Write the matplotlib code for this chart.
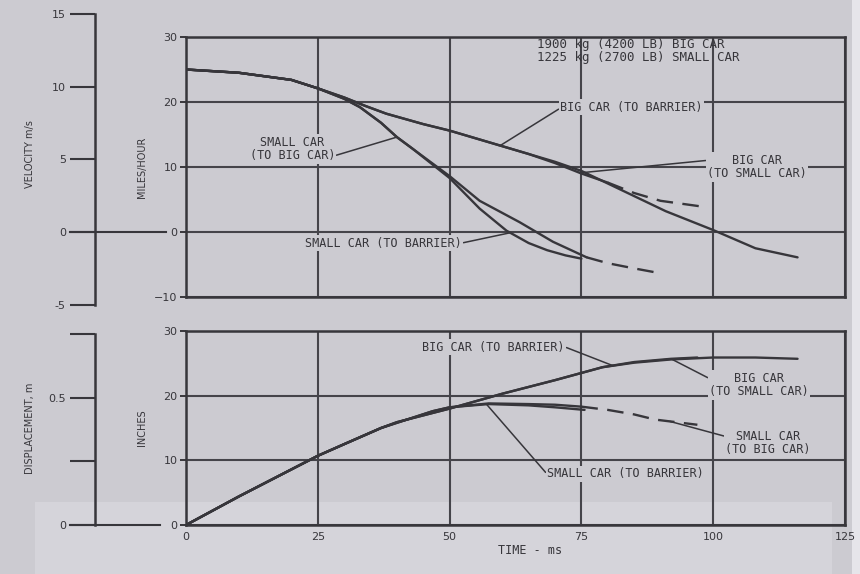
import numpy as np
import matplotlib
matplotlib.use("Agg")
import matplotlib.pyplot as plt
from matplotlib.transforms import blended_transform_factory
from matplotlib.patches import Rectangle
from matplotlib.lines import Line2D

# ---------------- data ----------------
# Velocity (miles/hour) vs time (ms)
vel_big_barrier_t = [0, 10, 20, 25, 30, 34, 38, 45, 50, 57.5, 65, 70, 75, 83, 91, 100, 108, 116]
vel_big_barrier_v = [25, 24.5, 23.4, 22.1, 20.7, 19.4, 18.2, 16.6, 15.6, 13.8, 12.0, 10.8, 9.4, 6.3, 3.2, 0.3, -2.5, -3.9]

vel_big_small_t = [0, 10, 20, 25, 30, 34, 38, 45, 50, 57.5, 65, 70, 75, 80, 85, 90, 98]
vel_big_small_v = [25, 24.5, 23.4, 22.1, 20.7, 19.4, 18.2, 16.6, 15.6, 13.8, 12.0, 10.6, 9.0, 7.6, 6.0, 4.8, 3.9]
vel_big_small_dash_from = 80

vel_small_barrier_t = [0, 10, 20, 25, 30, 33, 37, 40, 43, 50, 55.7, 60.8, 65, 68.5, 72, 75]
vel_small_barrier_v = [25, 24.5, 23.4, 22.1, 20.5, 19.2, 16.8, 14.6, 12.8, 8.3, 3.6, 0.2, -1.7, -2.8, -3.6, -4.1]

vel_small_big_t = [0, 10, 20, 25, 30, 33, 37, 40, 43, 50, 55.7, 63.3, 69.6, 76, 80, 85, 89]
vel_small_big_v = [25, 24.5, 23.4, 22.1, 20.5, 19.2, 16.8, 14.6, 12.8, 8.6, 4.8, 1.5, -1.5, -3.9, -4.8, -5.6, -6.2]
vel_small_big_dash_from = 76

# Displacement (inches) vs time (ms)
dsp_big_barrier_t = [0, 10, 20, 25, 30, 37, 40, 50, 60, 70, 79, 85, 92, 100, 108, 116]
dsp_big_barrier_d = [0, 4.4, 8.6, 10.7, 12.5, 15.0, 15.9, 18.0, 20.3, 22.4, 24.4, 25.1, 25.6, 25.9, 25.9, 25.7]

dsp_big_small_t = [0, 10, 20, 25, 30, 37, 40, 50, 60, 70, 79, 85, 92, 97]
dsp_big_small_d = [0, 4.4, 8.6, 10.7, 12.5, 15.0, 15.9, 18.0, 20.3, 22.4, 24.4, 25.2, 25.7, 25.9]

dsp_small_barrier_t = [0, 10, 20, 25, 30, 37, 40, 46.8, 50, 57.4, 65, 70, 75.6]
dsp_small_barrier_d = [0, 4.4, 8.6, 10.7, 12.5, 15.0, 15.8, 17.6, 18.2, 18.7, 18.5, 18.2, 17.8]

dsp_small_big_t = [0, 10, 20, 25, 30, 37, 40, 46.8, 50, 57.4, 65, 70, 75, 80, 85, 89, 92, 97]
dsp_small_big_d = [0, 4.4, 8.6, 10.7, 12.5, 15.0, 15.8, 17.6, 18.2, 18.8, 18.7, 18.6, 18.3, 17.8, 17.1, 16.3, 16.0, 15.5]
dsp_small_big_dash_from = 75

time_ticks = [0, 25, 50, 75, 100, 125]
mph_ticks = [-10, 0, 10, 20, 30]
inch_ticks = [0, 10, 20, 30]
ms_ticks = [-5, 0, 5, 10, 15]
m_ticks = [0, 0.25, 0.5, 0.75]
m_tick_labels = ["0", "", "0.5", ""]

MPH_PER_MS = 2.23694
M_PER_IN = 0.0254

# ---------------- style ----------------
BG = "#cccbd1"
BG_LIGHT = "#d5d4da"
INK = "#37363b"
GRID = "#45444a"
LBL_FONT = "DejaVu Sans Mono"

W, H = 860, 574
fig = plt.figure(figsize=(W / 100, H / 100), dpi=100)
fig.patch.set_facecolor(BG)
fig.add_artist(Rectangle((35 / W, 0), (832 - 35) / W, (574 - 502) / H, transform=fig.transFigure,
                         facecolor=BG_LIGHT, edgecolor="none", zorder=-5))
fig.add_artist(Rectangle((852 / W, 0), 8 / W, 1, transform=fig.transFigure,
                         facecolor="#e6e5ea", edgecolor="none", zorder=-5))


def rect(x0, y0, x1, y1):
    return [x0 / W, 1 - y1 / H, (x1 - x0) / W, (y1 - y0) / H]


ax_v = fig.add_axes(rect(186, 37, 845, 297))
ax_d = fig.add_axes(rect(186, 331, 845, 525))

for ax in (ax_v, ax_d):
    ax.set_facecolor("none")
    ax.set_xlim(0, 125)
    ax.set_xticks(time_ticks)
    ax.grid(True, color=GRID, lw=1.5)
    ax.set_axisbelow(True)
    for s in ax.spines.values():
        s.set_color(INK)
        s.set_linewidth(1.8)
    ax.tick_params(axis="y", direction="out", length=4, width=1.4, color=INK,
                   labelsize=8, labelcolor=INK, pad=2)
    ax.tick_params(axis="x", length=0, labelsize=8, labelcolor=INK, pad=5)

ax_v.set_ylim(-10, 30)
ax_v.set_yticks(mph_ticks)
ax_v.tick_params(axis="x", labelbottom=False)
ax_d.set_ylim(0, 30)
ax_d.set_yticks(inch_ticks)
ax_d.set_xticklabels([str(t) for t in time_ticks])

LW = 1.7


def plot_split(ax, t, y, dash_from=None):
    t = np.asarray(t, float)
    y = np.asarray(y, float)
    if dash_from is None:
        ax.plot(t, y, color=INK, lw=LW, solid_capstyle="round", solid_joinstyle="round", zorder=3)
        return
    m1 = t <= dash_from
    m2 = t >= dash_from
    ax.plot(t[m1], y[m1], color=INK, lw=LW, solid_capstyle="round", solid_joinstyle="round", zorder=3)
    ax.plot(t[m2], y[m2], color=INK, lw=LW, ls=(0, (7, 4)), zorder=3)


plot_split(ax_v, vel_big_barrier_t, vel_big_barrier_v)
plot_split(ax_v, vel_big_small_t, vel_big_small_v, vel_big_small_dash_from)
plot_split(ax_v, vel_small_barrier_t, vel_small_barrier_v)
plot_split(ax_v, vel_small_big_t, vel_small_big_v, vel_small_big_dash_from)

plot_split(ax_d, dsp_big_barrier_t, dsp_big_barrier_d)
plot_split(ax_d, dsp_big_small_t, dsp_big_small_d)
plot_split(ax_d, dsp_small_barrier_t, dsp_small_barrier_d)
plot_split(ax_d, dsp_small_big_t, dsp_small_big_d, dsp_small_big_dash_from)

# ---------------- secondary metric axes ----------------
mph_per_px = 40 / (297 - 37)
ax_ms = fig.add_axes(rect(95, 10, 96, 312))
ax_ms.set_ylim((-10 - (312 - 297) * mph_per_px) / MPH_PER_MS,
               (30 + (37 - 10) * mph_per_px) / MPH_PER_MS)
ax_m = fig.add_axes(rect(95, 331, 96, 525))
ax_m.set_ylim(0, 30 * M_PER_IN)

for ax, ticks, labels in ((ax_ms, ms_ticks, [str(v) for v in ms_ticks]), (ax_m, m_ticks, m_tick_labels)):
    ax.set_facecolor("none")
    ax.set_xticks([])
    for k in ("top", "right", "bottom"):
        ax.spines[k].set_visible(False)
    ax.spines["left"].set_color(INK)
    ax.spines["left"].set_linewidth(1.8)
    ax.spines["left"].set_bounds(ticks[0], ticks[-1])
    ax.set_yticks(ticks)
    ax.set_yticklabels(labels)
    ax.tick_params(axis="y", direction="out", length=18, width=1.5, color=INK,
                   labelsize=8, labelcolor=INK, pad=3)

tr = blended_transform_factory(fig.transFigure, ax_ms.transData)
fig.add_artist(Line2D([70 / W, 166 / W], [0, 0], transform=tr, color=INK, lw=1.5))
tr2 = blended_transform_factory(fig.transFigure, ax_m.transData)
fig.add_artist(Line2D([70 / W, 160 / W], [0, 0], transform=tr2, color=INK, lw=1.5))

# ---------------- axis labels ----------------
fig.text(30 / W, 1 - 154 / H, "VELOCITY m/s", rotation=90, ha="center", va="center",
         fontsize=7, color=INK)
fig.text(142 / W, 1 - 167 / H, "MILES/HOUR", rotation=90, ha="center", va="center",
         fontsize=7, color=INK)
fig.text(30 / W, 1 - 428 / H, "DISPLACEMENT, m", rotation=90, ha="center", va="center",
         fontsize=7, color=INK)
fig.text(142 / W, 1 - 428 / H, "INCHES", rotation=90, ha="center", va="center",
         fontsize=7, color=INK)
fig.text(530 / W, 1 - 550 / H, "TIME - ms", ha="center", va="center", fontsize=8.5,
         family=LBL_FONT, color=INK)

fig.text(537 / W, 1 - 51 / H, "1900 kg (4200 LB) BIG CAR\n1225 kg (2700 LB) SMALL CAR",
         ha="left", va="center", fontsize=9, family=LBL_FONT, color=INK, linespacing=1.0)


# ---------------- curve labels ----------------
def label(ax, text, t_tip, ts, ys, px, ha, relpos):
    xy = (t_tip, float(np.interp(t_tip, ts, ys)))
    ax.annotate(text, xy=xy, xycoords="data", xytext=(px[0], H - px[1]),
                textcoords="figure pixels", ha=ha, va="center", multialignment="center",
                fontsize=8.5, family=LBL_FONT, color=INK, linespacing=1.05,
                bbox=dict(boxstyle="square,pad=0.12", fc=BG, ec="none"),
                arrowprops=dict(arrowstyle="-", color=INK, lw=1.1, shrinkA=0, shrinkB=0,
                                relpos=relpos), zorder=5)


label(ax_v, "BIG CAR (TO BARRIER)", 59.6, vel_big_barrier_t, vel_big_barrier_v,
      (560, 107), "left", (0, 0.4))
label(ax_v, "SMALL CAR\n(TO BIG CAR)", 40, vel_small_big_t, vel_small_big_v,
      (335, 149), "right", (1, 0.25))
label(ax_v, "BIG CAR\n(TO SMALL CAR)", 74.7, vel_big_small_t, vel_big_small_v,
      (757, 167), "center", (0, 0.75))
label(ax_v, "SMALL CAR (TO BARRIER)", 61.5, vel_small_barrier_t, vel_small_barrier_v,
      (462, 243), "right", (1, 0.5))

label(ax_d, "BIG CAR (TO BARRIER)", 81, dsp_big_barrier_t, dsp_big_barrier_d,
      (565, 347), "right", (1, 0.5))
label(ax_d, "BIG CAR\n(TO SMALL CAR)", 92, dsp_big_small_t, dsp_big_small_d,
      (759, 385), "center", (0, 0.75))
label(ax_d, "SMALL CAR\n(TO BIG CAR)", 91.8, dsp_small_big_t, dsp_small_big_d,
      (768, 443), "center", (0, 0.75))
label(ax_d, "SMALL CAR (TO BARRIER)", 57, dsp_small_barrier_t, dsp_small_barrier_d,
      (547, 474), "left", (0, 0.5))

fig.savefig("out.png", dpi=100, facecolor=fig.get_facecolor())
